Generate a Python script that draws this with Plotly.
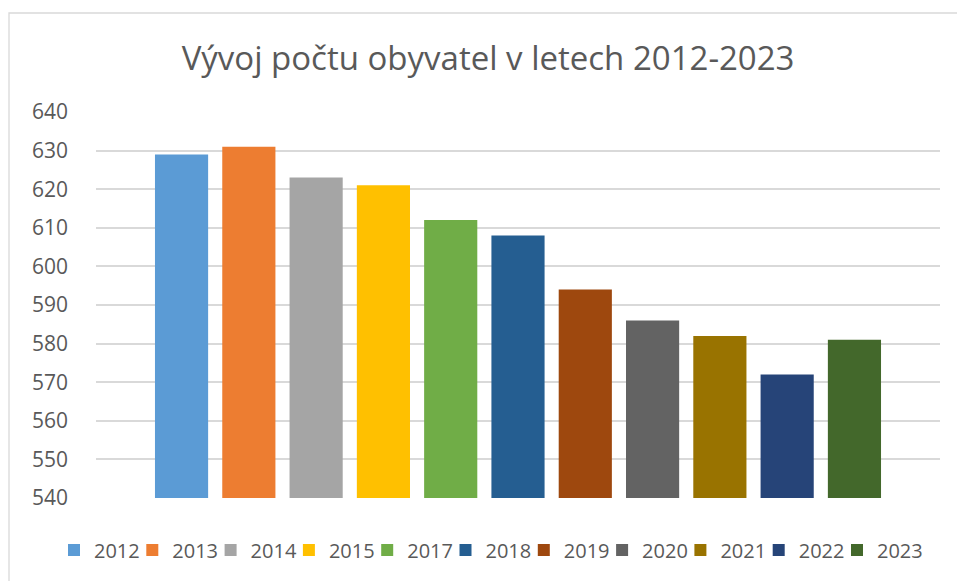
import plotly.graph_objects as go

years = ["2012", "2013", "2014", "2015", "2017", "2018", "2019", "2020", "2021", "2022", "2023"]
population = [629, 631, 623, 621, 612, 608, 594, 586, 582, 572, 581]
colors = ["#5B9BD5", "#ED7D31", "#A5A5A5", "#FFC000", "#70AD47", "#255E91",
          "#9E480E", "#636363", "#997300", "#264478", "#43682B"]
y_ticks = list(range(540, 641, 10))

W, H = 957, 581
L, R, T, B = 96, 17, 112, 83
pw, ph = W - L - R, H - T - B

fig = go.Figure()
for i, (yr, val, col) in enumerate(zip(years, population, colors)):
    fig.add_trace(go.Bar(x=["Počet obyvatel"], y=[val], name=yr,
                         marker=dict(color=col, line=dict(width=0)),
                         legendwidth=50 if i == len(years) - 1 else 33.3,
                         hovertemplate=yr + ": %{y}<extra></extra>"))

font_family = "Open Sans, Liberation Sans, sans-serif"
fig.update_layout(
    width=W, height=H,
    margin=dict(l=L, r=R, t=T, b=B, pad=0),
    barmode="group", bargap=0.123, bargroupgap=0.21,
    plot_bgcolor="white", paper_bgcolor="white",
    title=dict(text="Vývoj počtu obyvatel v letech 2012-2023",
               font=dict(family=font_family, size=33, color="#595959"),
               x=0.51, xanchor="center", y=0.9, yanchor="middle"),
    xaxis=dict(showticklabels=False, showgrid=False, zeroline=False, showline=False),
    yaxis=dict(range=[540, 640], tickvals=y_ticks, showgrid=True, gridcolor="#D9D9D9",
               gridwidth=1.6, zeroline=False, showline=False,
               tickfont=dict(family=font_family, size=21, color="#595959"),
               ticks="", ticklabelstandoff=27),
    legend=dict(orientation="h", x=(54 - L) / pw, xanchor="left",
                y=-(550 - (H - B)) / ph, yanchor="middle",
                font=dict(family=font_family, size=20, color="#595959"),
                itemwidth=30, traceorder="normal"),
    showlegend=True,
)
fig.add_shape(type="rect", xref="paper", yref="paper",
              x0=(9 - L) / pw, x1=(975 - L) / pw,
              y0=(H - T - 595) / ph, y1=(ph + T - 13) / ph,
              line=dict(color="#D9D9D9", width=1.3), fillcolor="rgba(0,0,0,0)", layer="below")
fig.write_html("out.html", config={"displayModeBar": False},
               post_script="document.body.style.margin='0';")
